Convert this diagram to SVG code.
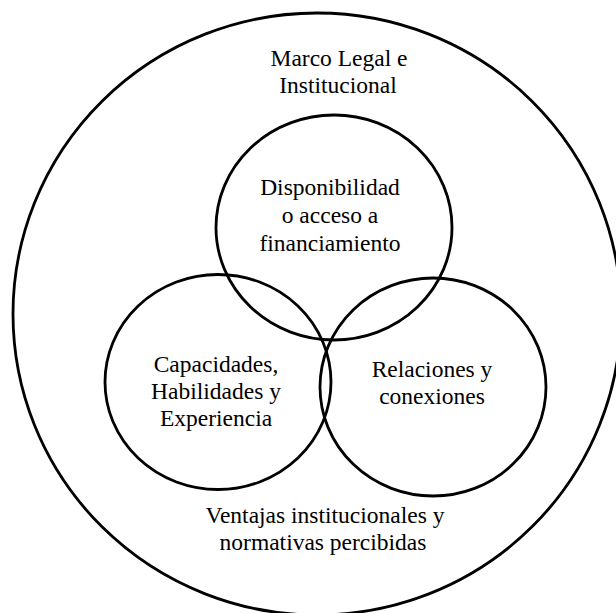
<svg xmlns="http://www.w3.org/2000/svg" width="616" height="613" viewBox="0 0 616 613">
<style>
.c{fill:none;stroke:#000;stroke-width:2.8}
.t{font-family:"Liberation Serif","Times New Roman",serif;font-size:23.5px;fill:#000;text-anchor:middle}
</style>
<rect width="616" height="613" fill="#fff"/>
<g id="outer">
<ellipse class="c" cx="317" cy="314" rx="304" ry="301"/>
<text class="t" x="339" y="66">Marco Legal e</text>
<text class="t" x="338" y="93">Institucional</text>
<text class="t" x="325" y="523">Ventajas institucionales y</text>
<text class="t" x="323" y="550">normativas percibidas</text>
</g>
<g id="top">
<ellipse class="c" cx="334" cy="227.5" rx="118" ry="112.5"/>
<text class="t" x="330" y="195">Disponibilidad</text>
<text class="t" x="330" y="223">o acceso a</text>
<text class="t" x="330" y="251">financiamiento</text>
</g>
<g id="left">
<ellipse class="c" cx="218" cy="382" rx="113" ry="107.5"/>
<text class="t" x="216" y="372">Capacidades,</text>
<text class="t" x="216" y="399">Habilidades y</text>
<text class="t" x="216" y="426">Experiencia</text>
</g>
<g id="right">
<ellipse class="c" cx="433" cy="387" rx="113" ry="109"/>
<text class="t" x="432" y="377">Relaciones y</text>
<text class="t" x="432" y="404">conexiones</text>
</g>
</svg>
